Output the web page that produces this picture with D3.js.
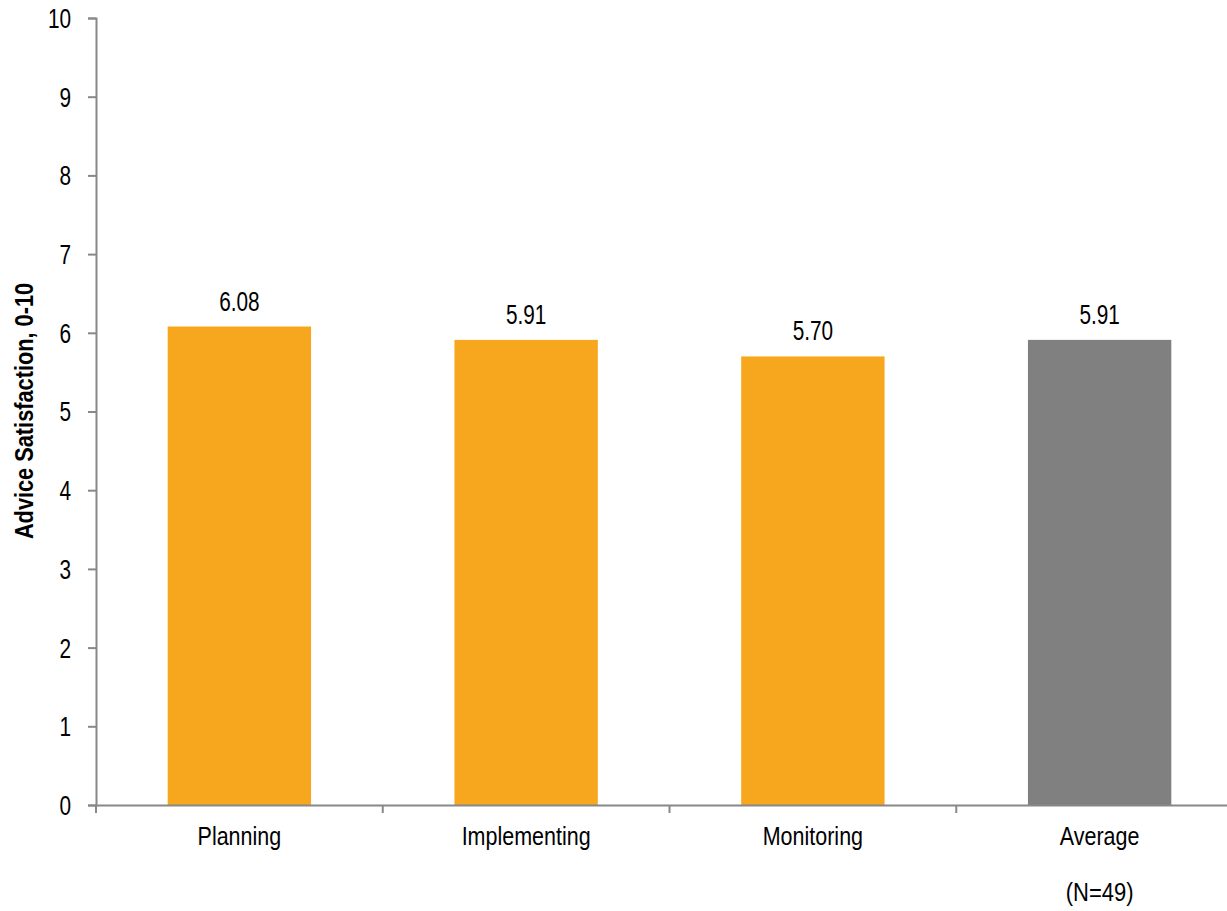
<!DOCTYPE html>
<html>
<head>
<meta charset="utf-8">
<script src="https://cdn.jsdelivr.net/npm/d3@7"></script>
<style>
  body { margin: 0; background: #fff; }
  svg text { font-family: "Liberation Sans", Arial, sans-serif; fill: #000; }
</style>
</head>
<body>
<div id="chart"></div>
<script>
// data
const categories = ["Planning", "Implementing", "Monitoring", "Average"];
const values = [6.08, 5.91, 5.70, 5.91];
const barColors = ["#F7A71E", "#F7A71E", "#F7A71E", "#808080"];
const yTicks = [0, 1, 2, 3, 4, 5, 6, 7, 8, 9, 10];
const footnote = "(N=49)";
const yTitle = "Advice Satisfaction, 0-10";

const width = 1227, height = 911;
const axisColor = "#888888";
// the original uses a narrow face, so squeeze text horizontally
const numSquash = 0.77, labelSquash = 0.86;

const svg = d3.select("#chart")
  .append("svg")
  .attr("width", width)
  .attr("height", height);

const x = d3.scaleBand()
  .domain(categories)
  .range([96, 1243])
  .paddingInner(0.5)
  .paddingOuter(0.25);

const y = d3.scaleLinear()
  .domain([0, 10])
  .range([805, 18]);

// bars
svg.append("g")
  .selectAll("rect")
  .data(categories)
  .enter()
  .append("rect")
  .attr("x", (d) => x(d))
  .attr("y", (d, i) => y(values[i]))
  .attr("width", x.bandwidth())
  .attr("height", (d, i) => y(0) - y(values[i]))
  .attr("fill", (d, i) => barColors[i]);

// value labels
svg.append("g")
  .selectAll("text")
  .data(categories)
  .enter()
  .append("text")
  .attr("transform", (d, i) =>
    `translate(${x(d) + x.bandwidth() / 2},${y(values[i]) - 16}) scale(${numSquash},1)`)
  .attr("text-anchor", "middle")
  .style("font-size", "27px")
  .text((d, i) => values[i].toFixed(2));

// y axis
const yAxis = svg.append("g")
  .attr("transform", "translate(96,0)")
  .call(d3.axisLeft(y).tickValues(yTicks).tickSize(8).tickPadding(16).tickFormat(d3.format("d")));
yAxis.select(".domain").attr("stroke", axisColor).attr("stroke-width", 2);
yAxis.selectAll(".tick line").attr("stroke", axisColor).attr("stroke-width", 2);
yAxis.selectAll(".tick text")
  .attr("x", 0)
  .attr("transform", `translate(-25,0) scale(${numSquash},1)`)
  .style("font-size", "27px")
  .attr("dy", "0.35em");

// x axis
const xAxis = svg.append("g")
  .attr("transform", "translate(0,805)")
  .call(d3.axisBottom(x).tickSize(0).tickPadding(0));
xAxis.select(".domain").attr("stroke", axisColor).attr("stroke-width", 2);
xAxis.selectAll(".tick text")
  .attr("y", 0)
  .attr("dy", 0)
  .attr("transform", `translate(0,40) scale(${labelSquash},1)`)
  .style("font-size", "25px");

// tick marks on band boundaries
const step = x.step();
svg.append("g")
  .selectAll("line")
  .data(categories)
  .enter()
  .append("line")
  .attr("x1", (d) => x(d) - step * x.paddingInner() / 2)
  .attr("x2", (d) => x(d) - step * x.paddingInner() / 2)
  .attr("y1", 805)
  .attr("y2", 813)
  .attr("stroke", axisColor)
  .attr("stroke-width", 2);

// footnote under Average
svg.append("text")
  .attr("transform", `translate(${x("Average") + x.bandwidth() / 2},901) scale(0.88,1)`)
  .attr("text-anchor", "middle")
  .style("font-size", "25px")
  .text(footnote);

// y title
svg.append("text")
  .attr("transform", "translate(33,411) rotate(-90) scale(0.87,1)")
  .attr("text-anchor", "middle")
  .style("font-size", "25px")
  .style("font-weight", "bold")
  .text(yTitle);
</script>
</body>
</html>
